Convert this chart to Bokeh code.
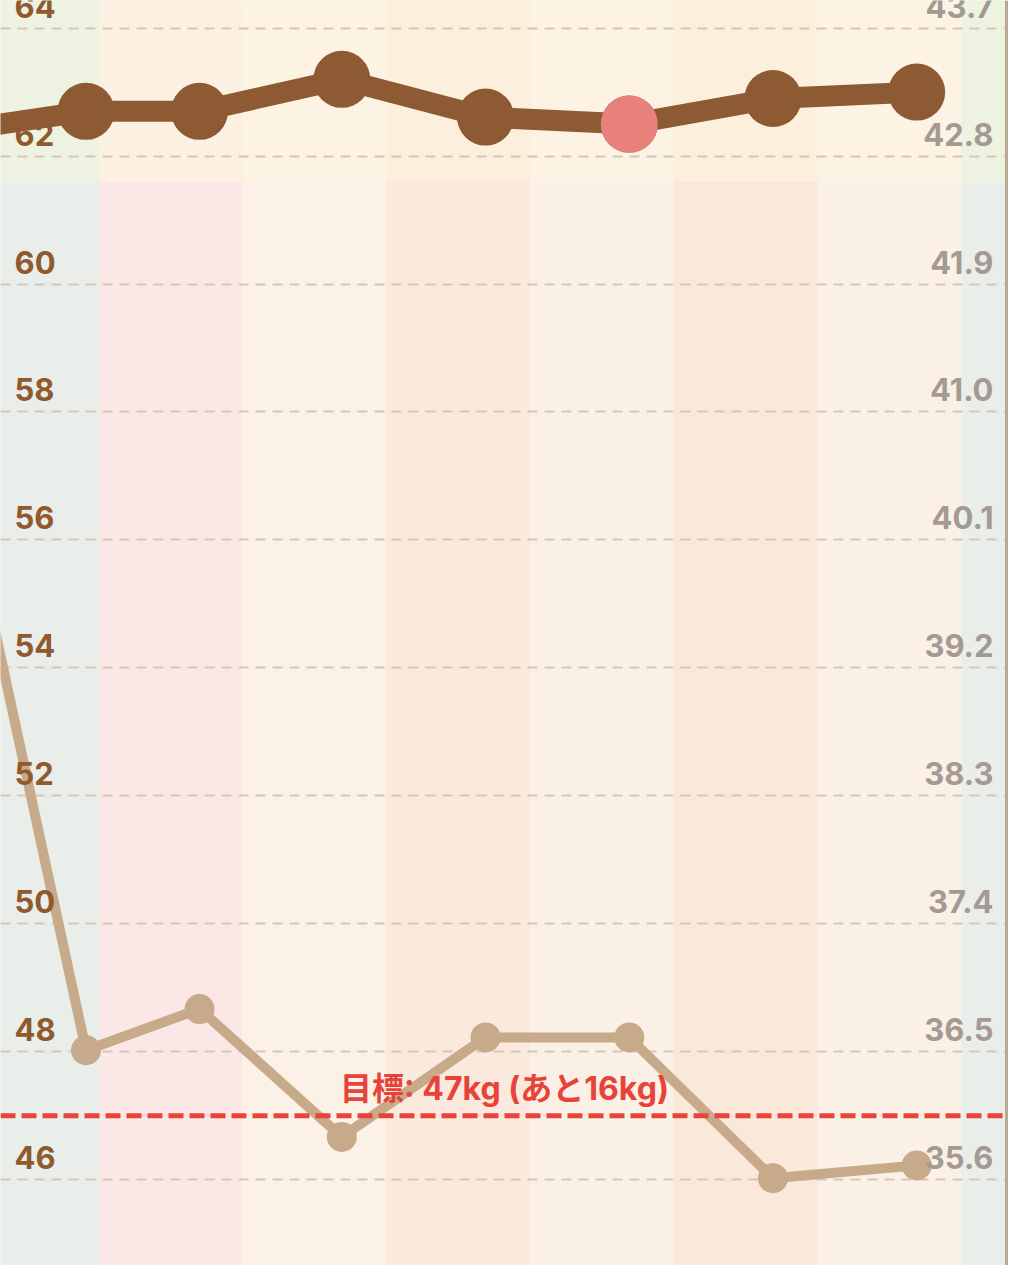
from bokeh.plotting import figure
from bokeh.models import Range1d, FixedTicker, Span
from bokeh.core.properties import value
from bokeh.embed import file_html
from bokeh.resources import INLINE

# ---------------- data ----------------
days = [-1.31, -0.09, 0.70, 1.69, 2.69, 3.69, 4.69, 5.69]
weight_kg = [62.29, 62.70, 62.70, 63.20, 62.61, 62.50, 62.90, 63.00]
body_fat = [42.20, 36.51, 36.80, 35.90, 36.60, 36.60, 35.61, 35.70]
highlight_index = 5
target_kg = 47
target_label = "目標: 47kg (あと16kg)"
weight_ticks = [64, 62, 60, 58, 56, 54, 52, 50, 48, 46]
weight_tick_labels = ["64", "62", "60", "58", "56", "54", "52", "50", "48", "46"]
fat_ticks = [43.7, 42.8, 41.9, 41.0, 40.1, 39.2, 38.3, 37.4, 36.5, 35.6]
fat_tick_labels = ["43.7", "42.8", "41.9", "41.0", "40.1", "39.2", "38.3", "37.4", "36.5", "35.6"]
band_days = [-1, 0, 1, 2, 3, 4, 5, 6]
zone_kg = 61.6

# ---------------- view / style ----------------
XMIN, XMAX = -0.68493, 6.32877
YMIN, YMAX = 44.6573, 64.4322
FAT_SCALE, FAT_SHIFT = 0.45, 14.9  # fat = 0.45 * kg + 14.9
lower_colors = ["#e9eeea", "#fbe8e6", "#fbf1e7", "#fae9dc", "#faf0e6", "#fae8da", "#fbf0e6", "#e9eeea"]
upper_colors = ["#eef3e1", "#fcf0e2", "#fcf3e3", "#fcefdc", "#fcf3e4", "#fcefdc", "#fcf3e4", "#eef3e1"]

p = figure(width=1008, height=1265, x_range=Range1d(XMIN, XMAX), y_range=Range1d(YMIN, YMAX),
           output_backend="svg", toolbar_location=None, min_border=0)
p.extra_y_ranges = {"fat": Range1d(YMIN * FAT_SCALE + FAT_SHIFT, YMAX * FAT_SCALE + FAT_SHIFT)}
p.xaxis.visible = False
p.yaxis.visible = False
p.outline_line_color = None
p.background_fill_color = "#faf0e6"
p.border_fill_color = "#ffffff"
p.xgrid.visible = False
p.ygrid.ticker = FixedTicker(ticks=weight_ticks)
p.ygrid.grid_line_color = "#d6c6b8"
p.ygrid.grid_line_width = 2
p.ygrid.grid_line_dash = "10 7"

band_ends = [d + 1 for d in band_days]
r1 = p.quad(left=band_days, right=band_ends, bottom=YMIN - 5, top=zone_kg,
            fill_color=lower_colors, line_color=None)
r2 = p.quad(left=band_days, right=band_ends, bottom=zone_kg, top=YMAX + 5,
            fill_color=upper_colors, line_color=None)
r1.level = "image"
r2.level = "image"

# right border of the chart panel
p.add_layout(Span(location=XMAX, dimension="height", line_color="#b9aa96", line_width=7))

# weight series
p.line(days, weight_kg, line_width=21, line_color="#8e5a33", line_join="round")
p.scatter(days, weight_kg, size=57, fill_color="#8e5a33", line_color=None)
p.scatter([days[highlight_index]], [weight_kg[highlight_index]], size=57,
          fill_color="#e8807c", line_color=None)

# body fat series
p.line(days, body_fat, y_range_name="fat", line_width=10, line_color="#c6aa8a", line_join="round")
p.scatter(days, body_fat, y_range_name="fat", size=30, fill_color="#c6aa8a", line_color=None)

# target
p.add_layout(Span(location=target_kg, dimension="width", line_color="#e8433b",
                  line_width=5, line_dash="15 6"))

# tick labels
p.text(x=[XMIN] * len(weight_ticks), y=weight_ticks, text=weight_tick_labels,
       x_offset=14, y_offset=-22, text_font=value("Inter"), text_font_style="bold",
       text_font_size="31px", text_color="#8f5a2e", text_align="left", text_baseline="middle")
p.text(x=[XMAX] * len(fat_ticks), y=fat_ticks, text=fat_tick_labels, y_range_name="fat",
       x_offset=-15, y_offset=-22, text_font=value("Inter"), text_font_style="bold",
       text_font_size="31px", text_color="#a39a92", text_align="right", text_baseline="middle")

p.text(x=[(XMIN + XMAX) / 2], y=[target_kg], text=[target_label], y_offset=-27,
       text_font=value("Inter, 'Noto Sans CJK JP'"), text_font_style="bold",
       text_font_size="32px", text_color="#e8433b", text_align="center", text_baseline="middle")

open("out.html", "w").write(file_html(p, INLINE))
